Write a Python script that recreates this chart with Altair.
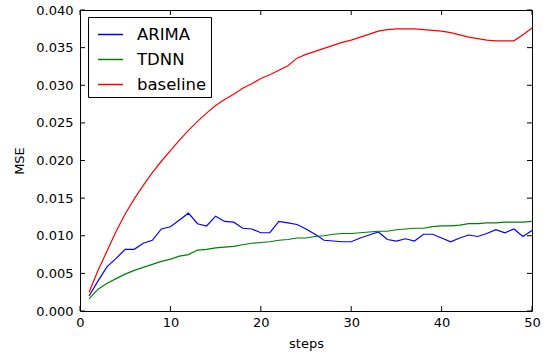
import altair as alt
import pandas as pd

steps = list(range(1, 51))

arima = [0.0020, 0.0040, 0.0059, 0.0070, 0.0082, 0.0082, 0.0090, 0.0094, 0.0109, 0.0112,
         0.0121, 0.0130, 0.0116, 0.0113, 0.0126, 0.0119, 0.0118, 0.0110, 0.0109, 0.0104,
         0.0104, 0.0119, 0.0117, 0.0115, 0.0109, 0.0102, 0.0094, 0.0093, 0.0092, 0.0092,
         0.0097, 0.0101, 0.0105, 0.0095, 0.0093, 0.0096, 0.0093, 0.0102, 0.0102, 0.0097,
         0.0092, 0.0097, 0.0101, 0.0099, 0.0103, 0.0108, 0.0104, 0.0109, 0.0099, 0.0107]

tdnn = [0.0016, 0.0029, 0.0037, 0.0043, 0.0049, 0.0054, 0.0058, 0.0062, 0.0066, 0.0069,
        0.0073, 0.0075, 0.0081, 0.0082, 0.0084, 0.0085, 0.0086, 0.0088, 0.0090, 0.0091,
        0.0092, 0.0094, 0.0095, 0.0097, 0.0097, 0.0099, 0.0100, 0.0102, 0.0103, 0.0103,
        0.0104, 0.0105, 0.0106, 0.0106, 0.0108, 0.0109, 0.0110, 0.0110, 0.0112, 0.0113,
        0.0113, 0.0114, 0.0116, 0.0116, 0.0117, 0.0117, 0.0118, 0.0118, 0.0118, 0.0119]

baseline = [0.0025, 0.0054, 0.0080, 0.0106, 0.0129, 0.0149, 0.0167, 0.0184, 0.0199, 0.0213,
            0.0227, 0.0240, 0.0252, 0.0263, 0.0273, 0.0281, 0.0288, 0.0296, 0.0302, 0.0309,
            0.0314, 0.0320, 0.0326, 0.0336, 0.0341, 0.0345, 0.0349, 0.0353, 0.0357, 0.0360,
            0.0364, 0.0368, 0.0372, 0.0374, 0.0375, 0.0375, 0.0375, 0.0374, 0.0373, 0.0372,
            0.0370, 0.0367, 0.0364, 0.0362, 0.0360, 0.0359, 0.0359, 0.0359, 0.0367, 0.0376]

series_names = ["ARIMA", "TDNN", "baseline"]
series_colors = ["#0000ff", "#008000", "#ff0000"]
x_ticks = [0, 10, 20, 30, 40, 50]
y_ticks = [0.0, 0.005, 0.010, 0.015, 0.020, 0.025, 0.030, 0.035, 0.040]

W, H = 452, 301
TL = 5

rows = []
for name, vals in zip(series_names, [arima, tdnn, baseline]):
    for s, v in zip(steps, vals):
        rows.append({"step": s, "MSE": v, "series": name})
df = pd.DataFrame(rows)

xscale = alt.Scale(domain=[0, 50], nice=False, zero=False)
yscale = alt.Scale(domain=[0, 0.04], nice=False)
xaxis = alt.Axis(values=x_ticks, format="d", title="steps")
yaxis = alt.Axis(values=y_ticks, format=".3f", title="MSE")

lines = alt.Chart(df).mark_line(strokeWidth=1.2).encode(
    x=alt.X("step:Q", scale=xscale, axis=xaxis),
    y=alt.Y("MSE:Q", scale=yscale, axis=yaxis),
    color=alt.Color(
        "series:N",
        scale=alt.Scale(domain=series_names, range=series_colors),
        legend=alt.Legend(
            title=None, orient="none", legendX=8, legendY=7,
            symbolType="stroke", symbolSize=625, symbolStrokeWidth=1.5,
            labelFontSize=16.5, labelFont="DejaVu Sans", labelColor="black",
            strokeColor="black", fillColor="white", padding=4,
            rowPadding=3, labelOffset=13, symbolOffset=5, cornerRadius=0,
        ),
    ),
    order=alt.Order("step:Q"),
)

xt = pd.DataFrame({"t": x_ticks})
yt = pd.DataFrame({"v": y_ticks})

xb = alt.Chart(xt).mark_rule(color="black", strokeWidth=1).encode(
    x=alt.X("t:Q", scale=xscale, axis=xaxis), y=alt.value(H - TL), y2=alt.value(H))
xtop = alt.Chart(xt).mark_rule(color="black", strokeWidth=1).encode(
    x=alt.X("t:Q", scale=xscale, axis=xaxis), y=alt.value(0), y2=alt.value(TL))
yl = alt.Chart(yt).mark_rule(color="black", strokeWidth=1).encode(
    y=alt.Y("v:Q", scale=yscale, axis=yaxis), x=alt.value(0), x2=alt.value(TL))
yr = alt.Chart(yt).mark_rule(color="black", strokeWidth=1).encode(
    y=alt.Y("v:Q", scale=yscale, axis=yaxis), x=alt.value(W - TL), x2=alt.value(W))

chart = alt.layer(xb, xtop, yl, yr, lines).properties(
    width=W, height=H,
    padding={"left": 80, "top": 10, "right": 16, "bottom": 42},
    autosize=alt.AutoSizeParams(type="none"),
    background="white",
).configure_view(
    stroke="black", strokeWidth=1
).configure_axis(
    domain=False, ticks=False, grid=False,
    labelFont="DejaVu Sans", labelFontSize=13, labelColor="black",
    labelPadding=5, labelFlush=False, labelOverlap=False,
    titleFont="DejaVu Sans", titleFontSize=13, titleFontWeight="normal", titleColor="black",
).configure_axisX(
    titlePadding=8
).configure_axisY(
    labelPadding=7, titlePadding=9
)

chart.save("out.html", embed_options={"renderer": "svg", "actions": False})
